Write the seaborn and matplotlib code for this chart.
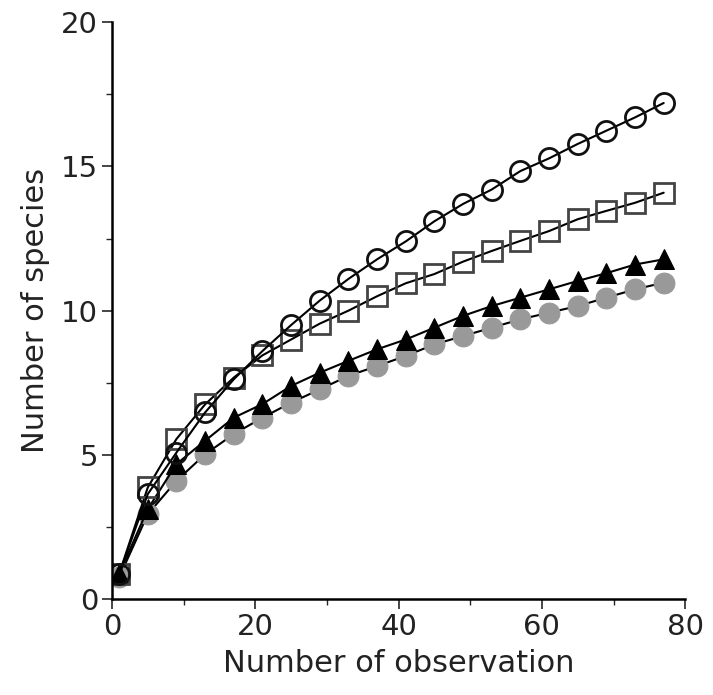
import numpy as np
import pandas as pd
import matplotlib
matplotlib.use("Agg")
import matplotlib.pyplot as plt
import seaborn as sns
from matplotlib.ticker import MultipleLocator

sns.set_theme(style="ticks")
plt.rcParams['font.family'] = ['DejaVu Sans']

# data
obs = [1, 5, 9, 13, 17, 21, 25, 29, 33, 37, 41, 45, 49, 53, 57, 61, 65, 69, 73, 77]
open_circle = [0.87, 3.64, 5.08, 6.47, 7.62, 8.6, 9.5, 10.35, 11.1, 11.78,
               12.4, 13.1, 13.7, 14.2, 14.84, 15.28, 15.78, 16.24, 16.7, 17.2]
open_square = [0.87, 3.87, 5.55, 6.75, 7.68, 8.45, 9.0, 9.55, 10.0, 10.5,
               10.95, 11.27, 11.7, 12.07, 12.42, 12.76, 13.17, 13.46, 13.74, 14.09]
triangle = [0.87, 3.12, 4.68, 5.49, 6.29, 6.76, 7.39, 7.85, 8.26, 8.66,
            9.0, 9.41, 9.82, 10.16, 10.45, 10.74, 11.03, 11.3, 11.6, 11.78]
gray_circle = [0.75, 2.94, 4.10, 5.02, 5.72, 6.29, 6.81, 7.27, 7.74, 8.08,
               8.43, 8.83, 9.12, 9.41, 9.70, 9.93, 10.16, 10.45, 10.74, 10.97]

fig = plt.figure(figsize=(7.13, 6.95), dpi=100)
ax = fig.add_axes([0.157, 0.138, 0.804, 0.830])

lw = 1.5
sns.lineplot(x=obs, y=gray_circle, ax=ax, color='black', lw=lw, marker='o',
             markersize=15, markerfacecolor='#999999', markeredgecolor='#999999')
sns.lineplot(x=obs, y=triangle, ax=ax, color='black', lw=lw, marker='^',
             markersize=15, markerfacecolor='black', markeredgecolor='black')
sns.lineplot(x=obs, y=open_square, ax=ax, color='black', lw=lw, marker='s',
             markersize=14, markerfacecolor='none', markeredgecolor='#444444',
             markeredgewidth=2.0)
sns.lineplot(x=obs, y=open_circle, ax=ax, color='black', lw=lw, marker='o',
             markersize=14.5, markerfacecolor='none', markeredgecolor='#111111',
             markeredgewidth=2.0)

ax.set_xlim(0, 80)
ax.set_ylim(0, 20)
ax.xaxis.set_major_locator(MultipleLocator(20))
ax.xaxis.set_minor_locator(MultipleLocator(10))
ax.yaxis.set_major_locator(MultipleLocator(5))
ax.yaxis.set_minor_locator(MultipleLocator(2.5))

sns.despine(ax=ax)
for s in ['left', 'bottom']:
    ax.spines[s].set_linewidth(1.8)
    ax.spines[s].set_color('black')
ax.tick_params(which='major', direction='out', length=7, width=1.2,
               labelsize=21, labelcolor='#222222', pad=3)
ax.tick_params(which='minor', direction='out', length=4, width=1.0)
ax.set_xlabel('Number of observation', fontsize=22, color='#222222', labelpad=6)
ax.set_ylabel('Number of species', fontsize=22, color='#222222', labelpad=8)

fig.savefig('out.png', dpi=100)
